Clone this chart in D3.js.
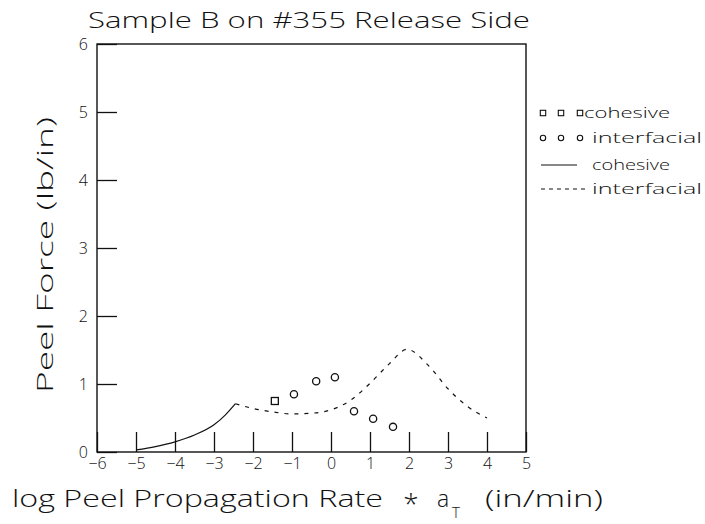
<!DOCTYPE html>
<html>
<head>
<meta charset="utf-8">
<script src="https://cdn.jsdelivr.net/npm/d3@7"></script>
<style>
  html, body { margin: 0; padding: 0; background: #fff; }
  svg { display: block; }
  text { font-family: "Open Sans", "DejaVu Sans", sans-serif; font-weight: 300; fill: #111; }
</style>
</head>
<body>
<svg id="chart" width="705" height="524"></svg>
<script>
// Axis ticks
const xTicks = [-6, -5, -4, -3, -2, -1, 0, 1, 2, 3, 4, 5];
const yTicks = [0, 1, 2, 3, 4, 5, 6];

// Measured peel data
const cohesiveX = [-1.44];
const cohesiveY = [0.75];
const interfacialX = [-0.95, -0.38, 0.10, 0.59, 1.08, 1.59];
const interfacialY = [0.85, 1.04, 1.10, 0.60, 0.49, 0.37];

// Fitted curves
const cohesiveFitX = [-5, -4.5, -4, -3.5, -3, -2.7, -2.45];
const cohesiveFitY = [0.03, 0.08, 0.15, 0.25, 0.40, 0.55, 0.71];
const interfacialFitX = [-2.45, -2, -1.5, -1, -0.5, 0, 0.5, 1, 1.5, 1.95, 2.5, 3, 3.5, 4];
const interfacialFitY = [0.71, 0.64, 0.59, 0.56, 0.57, 0.62, 0.76, 1.01, 1.30, 1.51, 1.27, 0.93, 0.67, 0.50];

const legendLabels = ["cohesive", "interfacial", "cohesive", "interfacial"];

const svg = d3.select("#chart");
const plotLeft = 97, plotRight = 526, plotTop = 44, plotBottom = 452;

const x = d3.scaleLinear().domain([-6, 5]).range([plotLeft, plotRight]);
const y = d3.scaleLinear().domain([0, 6]).range([plotBottom, plotTop]);
const ink = "#111";
const minus = d => d < 0 ? "\u2212" + Math.abs(d) : String(d);

// Title
svg.append("text")
  .attr("x", 88).attr("y", 28)
  .attr("font-size", 22)
  .attr("textLength", 442).attr("lengthAdjust", "spacingAndGlyphs")
  .text("Sample B on #355 Release Side");

// Axes (ticks point inward)
const gy = svg.append("g").attr("transform", `translate(${plotLeft},0)`)
  .call(d3.axisLeft(y).tickValues(yTicks).tickSize(-20).tickPadding(9).tickFormat(minus));
const gx = svg.append("g").attr("transform", `translate(0,${plotBottom})`)
  .call(d3.axisBottom(x).tickValues(xTicks).tickSize(-20).tickPadding(6).tickFormat(minus));
[gx, gy].forEach(g => {
  g.select(".domain").remove();
  g.selectAll(".tick line").attr("stroke", ink).attr("stroke-width", 1.3);
  g.selectAll(".tick text").attr("font-size", 16).attr("fill", ink)
    .style("font-family", '"Open Sans", "DejaVu Sans", sans-serif').style("font-weight", 300);
});

// Frame
svg.append("rect")
  .attr("x", plotLeft).attr("y", plotTop)
  .attr("width", plotRight - plotLeft).attr("height", plotBottom - plotTop)
  .attr("fill", "none").attr("stroke", ink).attr("stroke-width", 1.4);

// Axis titles
svg.append("text")
  .attr("transform", "translate(53,393) rotate(-90)")
  .attr("font-size", 22)
  .attr("textLength", 276).attr("lengthAdjust", "spacingAndGlyphs")
  .text("Peel Force (lb/in)");

svg.append("text").attr("x", 12).attr("y", 507).attr("font-size", 23)
  .attr("textLength", 371).attr("lengthAdjust", "spacingAndGlyphs")
  .text("log Peel Propagation Rate");
svg.append("text").attr("x", 411).attr("y", 514).attr("font-size", 28)
  .attr("text-anchor", "middle")
  .text("*");
svg.append("text").attr("x", 437).attr("y", 507).attr("font-size", 23).text("a");
svg.append("text").attr("x", 452).attr("y", 518).attr("font-size", 15).text("T");
svg.append("text").attr("x", 485).attr("y", 507).attr("font-size", 23)
  .attr("textLength", 118).attr("lengthAdjust", "spacingAndGlyphs")
  .text("(in/min)");

// Fitted curves
const line = d3.line().x(d => x(d[0])).y(d => y(d[1])).curve(d3.curveMonotoneX);
svg.append("path")
  .datum(d3.zip(cohesiveFitX, cohesiveFitY))
  .attr("d", line).attr("fill", "none").attr("stroke", ink).attr("stroke-width", 1.2);
svg.append("path")
  .datum(d3.zip(interfacialFitX, interfacialFitY))
  .attr("d", line).attr("fill", "none").attr("stroke", ink).attr("stroke-width", 1.2)
  .attr("stroke-dasharray", "4,6");

// Data points
svg.selectAll("rect.coh")
  .data(d3.zip(cohesiveX, cohesiveY)).join("rect").attr("class", "coh")
  .attr("x", d => x(d[0]) - 3.5).attr("y", d => y(d[1]) - 3.5)
  .attr("width", 7).attr("height", 7)
  .attr("fill", "none").attr("stroke", ink).attr("stroke-width", 1.3);
svg.selectAll("circle.int")
  .data(d3.zip(interfacialX, interfacialY)).join("circle").attr("class", "int")
  .attr("cx", d => x(d[0])).attr("cy", d => y(d[1])).attr("r", 3.6)
  .attr("fill", "none").attr("stroke", ink).attr("stroke-width", 1.3);

// Legend
const lg = svg.append("g");
const rowY = [113, 138, 165, 189];
const markX = [543, 561, 580];
markX.forEach(mx => {
  lg.append("rect").attr("x", mx - 2.7).attr("y", rowY[0] - 2.7).attr("width", 5.4).attr("height", 5.4)
    .attr("fill", "none").attr("stroke", ink).attr("stroke-width", 1.1);
  lg.append("circle").attr("cx", mx).attr("cy", rowY[1]).attr("r", 2.7)
    .attr("fill", "none").attr("stroke", ink).attr("stroke-width", 1.1);
});
lg.append("line").attr("x1", 541).attr("x2", 577).attr("y1", rowY[2]).attr("y2", rowY[2])
  .attr("stroke", ink).attr("stroke-width", 1.1);
lg.append("line").attr("x1", 541).attr("x2", 585).attr("y1", rowY[3]).attr("y2", rowY[3])
  .attr("stroke", ink).attr("stroke-width", 1.1).attr("stroke-dasharray", "4,4");
const textX = [584, 592, 592, 592];
const textW = [86, 110, 78, 110];
legendLabels.forEach((t, i) => {
  lg.append("text").attr("x", textX[i]).attr("y", rowY[i] + 5).attr("font-size", 15)
    .attr("textLength", textW[i]).attr("lengthAdjust", "spacingAndGlyphs").text(t);
});
</script>
</body>
</html>
